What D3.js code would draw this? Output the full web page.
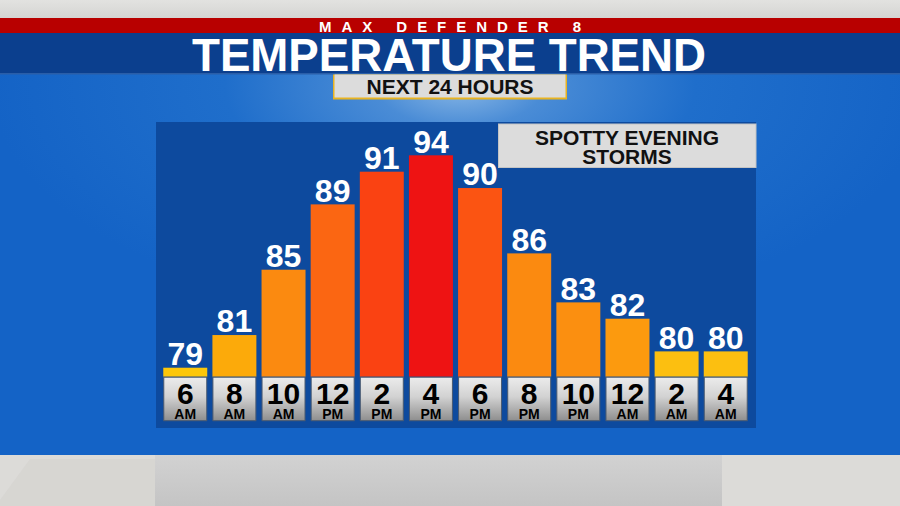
<!DOCTYPE html>
<html><head><meta charset="utf-8">
<script src="https://cdn.jsdelivr.net/npm/d3@7"></script>
<style>
html,body{margin:0;padding:0;background:#fff;}
svg{display:block;}
</style></head>
<body>
<svg id="c" width="900" height="506"></svg>
<script>
// ---- data ----
const hours   = ["6","8","10","12","2","4","6","8","10","12","2","4"];
const periods = ["AM","AM","AM","PM","PM","PM","PM","PM","PM","AM","AM","AM"];
const temps   = [79,81,85,89,91,94,90,86,83,82,80,80];
const barColors = ["#fcc70a","#fcaa0a","#fb8a10","#fb6612","#fa4212","#ee1313","#fb5412","#fb8a10","#fb8f10","#fc9a0e","#fcbf10","#fcbf10"];
const title = "TEMPERATURE TREND";
const brand = "MAX DEFENDER 8";
const subtitle = "NEXT 24 HOURS";
const noteLines = ["SPOTTY EVENING","STORMS"];

const svg = d3.select("#c");
const defs = svg.append("defs");
const SANS = "'Liberation Sans',Arial,sans-serif";

// gradients
const sky = defs.append("radialGradient").attr("id","sky").attr("gradientUnits","userSpaceOnUse")
  .attr("cx",460).attr("cy",85).attr("r",470).attr("gradientTransform","matrix(1,0,0,0.5,0,42)");
sky.append("stop").attr("offset",0).attr("stop-color","#8ab8e6");
sky.append("stop").attr("offset",0.18).attr("stop-color","#4a8cd6");
sky.append("stop").attr("offset",0.5).attr("stop-color","#1f6ecb");
sky.append("stop").attr("offset",1).attr("stop-color","#1463c6");

const lab = defs.append("linearGradient").attr("id","lab").attr("x1",0).attr("y1",0).attr("x2",0).attr("y2",1);
lab.append("stop").attr("offset",0).attr("stop-color","#ececec");
lab.append("stop").attr("offset",0.45).attr("stop-color","#d2d2d2");
lab.append("stop").attr("offset",1).attr("stop-color","#8e8e8e");

const bot = defs.append("linearGradient").attr("id","bot").attr("x1",0).attr("y1",0).attr("x2",0).attr("y2",1);
bot.append("stop").attr("offset",0).attr("stop-color","#d2d2d2");
bot.append("stop").attr("offset",1).attr("stop-color","#c4c4c4");

const topg = defs.append("linearGradient").attr("id","topg").attr("x1",0).attr("y1",0).attr("x2",0).attr("y2",1);
topg.append("stop").attr("offset",0).attr("stop-color","#e2e2e0");
topg.append("stop").attr("offset",1).attr("stop-color","#d4d4d2");

// background
svg.append("rect").attr("x",0).attr("y",0).attr("width",900).attr("height",506).attr("fill","url(#sky)");
svg.append("rect").attr("x",0).attr("y",0).attr("width",900).attr("height",19).attr("fill","url(#topg)");
svg.append("rect").attr("x",0).attr("y",455).attr("width",900).attr("height",51).attr("fill","#dcdbd8");
svg.append("path").attr("d","M0,500 L30,459 L155,459 L155,506 L0,506Z").attr("fill","#d3d2cf").attr("opacity",0.6);
svg.append("rect").attr("x",155).attr("y",455).attr("width",567).attr("height",51).attr("fill","url(#bot)");

// header bands
svg.append("rect").attr("x",0).attr("y",18).attr("width",900).attr("height",16).attr("fill","#b80000");
svg.append("rect").attr("x",0).attr("y",33).attr("width",900).attr("height",41).attr("fill","#0b3f8e");
svg.append("rect").attr("x",0).attr("y",73).attr("width",900).attr("height",1.5).attr("fill","#2a5ea8");

svg.append("text").attr("x",319).attr("y",31.5).attr("textLength",262).attr("lengthAdjust","spacing")
  .attr("font-family",SANS).attr("font-weight","bold").attr("font-size",15).attr("fill","#fff").text(brand);

svg.append("text").attr("x",192).attr("y",71).attr("textLength",514).attr("lengthAdjust","spacingAndGlyphs")
  .attr("font-family",SANS).attr("font-weight","bold").attr("font-size",47).attr("fill","#fff").text(title);

// subtitle box
svg.append("rect").attr("x",333).attr("y",74.5).attr("width",234).attr("height",25).attr("fill","#e8b321");
svg.append("rect").attr("x",334.5).attr("y",74.5).attr("width",231).attr("height",23).attr("fill","#dcdcdc");
svg.append("text").attr("x",450).attr("y",93.5).attr("text-anchor","middle").attr("textLength",167).attr("lengthAdjust","spacingAndGlyphs")
  .attr("font-family",SANS).attr("font-weight","bold").attr("font-size",21).attr("fill","#111").text(subtitle);

// chart panel
svg.append("rect").attr("x",156).attr("y",122).attr("width",600).attr("height",306).attr("fill","#0d4a9e");

// scales
const x = d3.scaleBand().domain(d3.range(temps.length)).range([160.7,750.3]).paddingInner(0.105).paddingOuter(0.0524);
const base = 376.7;
const y = d3.scaleLinear().domain([78.45, 91, 94]).range([base, 171.7, 155.3]);

// note box
svg.append("rect").attr("x",498.5).attr("y",124).attr("width",257.5).attr("height",43.5).attr("fill","#dcdcdc").attr("stroke","#c4c4c4").attr("stroke-width",1);
svg.append("text").attr("x",627).attr("y",145).attr("text-anchor","middle")
  .attr("font-family",SANS).attr("font-weight","bold").attr("font-size",21).attr("fill","#111")
  .selectAll("tspan").data(noteLines).join("tspan").attr("x",627).attr("dy",(d,i)=>i?19:0).text(d=>d);

// bars
const g = svg.append("g");
g.selectAll("rect.bar").data(temps).join("rect").attr("class","bar")
  .attr("x",(d,i)=>x(i)).attr("width",x.bandwidth())
  .attr("y",d=>y(d)).attr("height",d=>base-y(d))
  .attr("fill",(d,i)=>barColors[i]);

g.selectAll("text.val").data(temps).join("text").attr("class","val")
  .attr("x",(d,i)=>x(i)+x.bandwidth()/2).attr("y",d=>y(d)-2.7)
  .attr("text-anchor","middle").attr("font-family",SANS).attr("font-weight","bold").attr("font-size",32).attr("fill","#fff")
  .text(d=>d);

// hour label boxes
g.selectAll("rect.lab").data(hours).join("rect").attr("class","lab")
  .attr("x",(d,i)=>x(i)+0.5).attr("width",x.bandwidth()-1)
  .attr("y",base+0.5).attr("height",43.5)
  .attr("fill","url(#lab)").attr("stroke","#4a5a70").attr("stroke-width",1);

g.selectAll("text.hr").data(hours).join("text").attr("class","hr")
  .attr("x",(d,i)=>x(i)+x.bandwidth()/2).attr("y",403.5)
  .attr("text-anchor","middle").attr("font-family",SANS).attr("font-weight","bold").attr("font-size",30).attr("fill","#000")
  .text(d=>d);

g.selectAll("text.pd").data(periods).join("text").attr("class","pd")
  .attr("x",(d,i)=>x(i)+x.bandwidth()/2).attr("y",418.5)
  .attr("text-anchor","middle").attr("font-family",SANS).attr("font-weight","bold").attr("font-size",14).attr("fill","#000")
  .text(d=>d);
</script>
</body></html>
